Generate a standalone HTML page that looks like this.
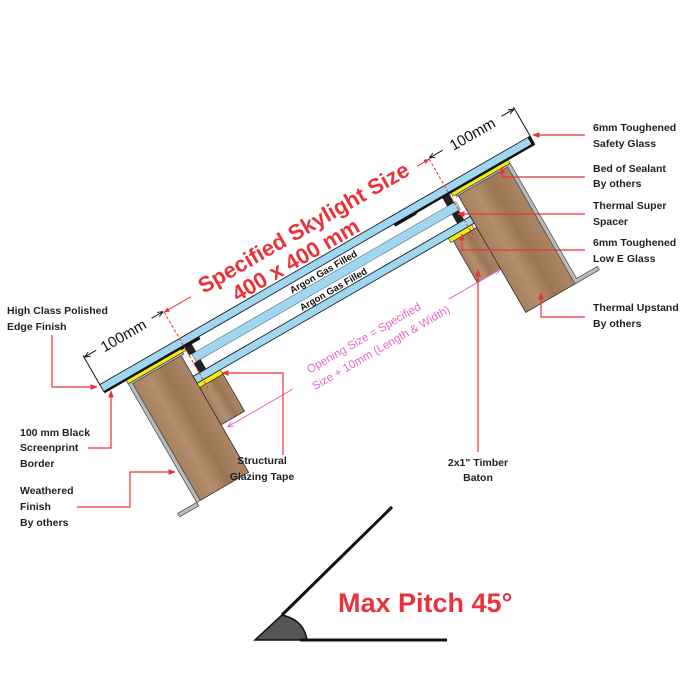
<!DOCTYPE html>
<html><head><meta charset="utf-8"><style>
html,body{margin:0;padding:0;background:#fff;}
svg{display:block;}
text{font-family:"Liberation Sans",Arial,sans-serif;}
</style></head><body>
<svg width="700" height="700" viewBox="0 0 700 700" xmlns="http://www.w3.org/2000/svg">
<defs>
<linearGradient id="wood" x1="0" y1="0" x2="1" y2="0">
<stop offset="0" stop-color="#a6815f"/><stop offset="0.3" stop-color="#b58f6d"/><stop offset="0.6" stop-color="#9b7555"/><stop offset="1" stop-color="#ac8664"/>
</linearGradient>
<marker id="ar" viewBox="0 0 10 10" refX="9" refY="5" markerWidth="6" markerHeight="6" orient="auto-start-reverse"><path d="M0,1 L10,5 L0,9 Z" fill="#e8333a"/></marker>
<marker id="ab" viewBox="0 0 10 10" refX="9" refY="5" markerWidth="6" markerHeight="6" orient="auto-start-reverse"><path d="M0,1 L10,5 L0,9" fill="none" stroke="#111" stroke-width="1.5"/></marker>
<marker id="ap" viewBox="0 0 10 10" refX="9" refY="5" markerWidth="6" markerHeight="6" orient="auto-start-reverse"><path d="M0,1 L10,5 L0,9" fill="none" stroke="#e667c8" stroke-width="1.5"/></marker>
</defs>

<g transform="translate(100,385) rotate(-30)">
  <rect x="29" y="15" width="56" height="135" fill="url(#wood)" stroke="#333" stroke-width="0.8"/>
  <rect x="405" y="15" width="57" height="135" fill="url(#wood)" stroke="#333" stroke-width="0.8"/>
  <path d="M25,13 L88,13 L88,15 L29,15 L29,150 L3,150 L3,154 L25,154 Z" fill="#bbb" stroke="#555" stroke-width="0.8"/>
  <path d="M403,13 L466,13 L466,146 L490,146 L490,150 L462,150 L462,15 L403,15 Z" fill="#bbb" stroke="#555" stroke-width="0.8"/>
  <rect x="85" y="52" width="27" height="43" fill="url(#wood)" stroke="#333" stroke-width="0.8"/>
  <rect x="378" y="52" width="27" height="48" fill="url(#wood)" stroke="#333" stroke-width="0.8"/>
  <rect x="25" y="8.5" width="67" height="4.5" fill="#f5ea10" stroke="#333" stroke-width="0.6"/>
  <rect x="400" y="8.5" width="66" height="4.5" fill="#f5ea10" stroke="#333" stroke-width="0.6"/>
  <rect x="85" y="47" width="27" height="5" fill="#f5ea10" stroke="#333" stroke-width="0.6"/>
  <rect x="375" y="47" width="27" height="5" fill="#f5ea10" stroke="#333" stroke-width="0.6"/>
  <rect x="0" y="-0.5" width="497" height="8" fill="#9fd6f2" stroke="#222" stroke-width="0.9"/>
  <rect x="95" y="19" width="305" height="9" fill="#9fd6f2" stroke="#555" stroke-width="0.5"/>
  <rect x="85" y="39" width="320" height="8" fill="#9fd6f2" stroke="#222" stroke-width="0.9"/>
  <rect x="92" y="9" width="8" height="10" fill="#222"/>
  <rect x="92" y="28" width="8" height="11" fill="#222"/>
  <rect x="390" y="9" width="8" height="10" fill="#222"/>
  <rect x="390" y="28" width="8" height="11" fill="#222"/>
  <rect x="0" y="7.5" width="98" height="2" fill="#111"/>
  <rect x="88" y="7.5" width="22" height="3" fill="#111"/>
  <rect x="335" y="7.5" width="162" height="2" fill="#111"/>
  <rect x="335" y="7.5" width="25" height="3" fill="#111"/>
  <rect x="494" y="-0.5" width="3" height="10" fill="#111"/>

  <text x="250" y="17" font-size="9.5" font-weight="bold" text-anchor="middle" fill="#111">Argon Gas Filled</text>
  <text x="250" y="37" font-size="9.5" font-weight="bold" text-anchor="middle" fill="#111">Argon Gas Filled</text>

  <line x1="92" y1="-31" x2="92" y2="58" stroke="#e8333a" stroke-width="1" stroke-dasharray="3,2"/>
  <line x1="398" y1="-31" x2="398" y2="58" stroke="#e8333a" stroke-width="1" stroke-dasharray="3,2"/>
  <line x1="123" y1="-31" x2="92" y2="-31" stroke="#e8333a" stroke-width="1" marker-end="url(#ar)"/>
  <line x1="384" y1="-31" x2="398" y2="-31" stroke="#e8333a" stroke-width="1" marker-end="url(#ar)"/>
  <text x="255" y="-27" font-size="22" font-weight="bold" text-anchor="middle" fill="#e8333a">Specified Skylight Size</text>
  <text x="232" y="-3" font-size="22" font-weight="bold" text-anchor="middle" fill="#e8333a">400 x 400 mm</text>

  <line x1="0" y1="0" x2="0" y2="-34" stroke="#111" stroke-width="1"/>
  <line x1="497" y1="0" x2="497" y2="-34" stroke="#111" stroke-width="1"/>
  <line x1="14" y1="-32" x2="1" y2="-32" stroke="#111" stroke-width="1" marker-end="url(#ab)"/>
  <line x1="78" y1="-32" x2="91" y2="-32" stroke="#111" stroke-width="1" marker-end="url(#ab)"/>
  <line x1="414" y1="-32" x2="399" y2="-32" stroke="#111" stroke-width="1" marker-end="url(#ab)"/>
  <line x1="482" y1="-32" x2="496" y2="-32" stroke="#111" stroke-width="1" marker-end="url(#ab)"/>
  <text x="45" y="-26" font-size="15" text-anchor="middle" fill="#111">100mm</text>
  <text x="448" y="-26" font-size="15" text-anchor="middle" fill="#111">100mm</text>

  <line x1="165" y1="100" x2="90" y2="100" stroke="#e667c8" stroke-width="1" marker-end="url(#ap)"/>
  <line x1="345" y1="100" x2="404" y2="100" stroke="#e667c8" stroke-width="1" marker-end="url(#ap)"/>
  <text x="252" y="95" font-size="11.5" text-anchor="middle" fill="#e667c8">Opening Size = Specified</text>
  <text x="262" y="112" font-size="11.5" text-anchor="middle" fill="#e667c8">Size + 10mm (Length &amp; Width)</text>
</g>

<g fill="none" stroke="#e8333a" stroke-width="1.2">
  <path d="M585,135 L533,135" marker-end="url(#ar)"/>
  <path d="M585,177 L502,177 L502,167" marker-end="url(#ar)"/>
  <path d="M585,214 L458,214" marker-end="url(#ar)"/>
  <path d="M585,250 L462,250 L462,234" marker-end="url(#ar)"/>
  <path d="M585,317 L541,317 L541,293" marker-end="url(#ar)"/>
  <path d="M52,335 L52,387 L97,387" marker-end="url(#ar)"/>
  <path d="M88,448 L111,448 L111,391" marker-end="url(#ar)"/>
  <path d="M77,507 L130,507 L130,472 L175,472" marker-end="url(#ar)"/>
  <path d="M283,455 L283,373 L222,373" marker-end="url(#ar)"/>
  <path d="M478,452 L478,270" marker-end="url(#ar)"/>
</g>

<g font-size="10.5" font-weight="bold" fill="#222">
  <text x="593" y="131">6mm Toughened</text>
  <text x="593" y="147">Safety Glass</text>
  <text x="593" y="172">Bed of Sealant</text>
  <text x="593" y="187">By others</text>
  <text x="593" y="209">Thermal Super</text>
  <text x="593" y="225">Spacer</text>
  <text x="593" y="246">6mm Toughened</text>
  <text x="593" y="262">Low E Glass</text>
  <text x="593" y="311">Thermal Upstand</text>
  <text x="593" y="327">By others</text>
  <text x="7" y="314">High Class Polished</text>
  <text x="7" y="330">Edge Finish</text>
  <text x="20" y="436">100 mm Black</text>
  <text x="20" y="451">Screenprint</text>
  <text x="20" y="467">Border</text>
  <text x="20" y="494">Weathered</text>
  <text x="20" y="510">Finish</text>
  <text x="20" y="526">By others</text>
  <text x="262" y="464" text-anchor="middle">Structural</text>
  <text x="262" y="480" text-anchor="middle">Glazing Tape</text>
  <text x="478" y="466" text-anchor="middle">2x1" Timber</text>
  <text x="478" y="481" text-anchor="middle">Baton</text>
</g>

<path d="M255,640 L307,640 Q304,620 282,615 Z" fill="#555" stroke="#111" stroke-width="1.5"/>
<line x1="282" y1="615" x2="392" y2="507" stroke="#111" stroke-width="3"/>
<line x1="300" y1="640" x2="447" y2="640" stroke="#111" stroke-width="3"/>
<text x="338" y="612" font-size="27" font-weight="bold" fill="#e8333a">Max Pitch 45°</text>
</svg>
</body></html>
